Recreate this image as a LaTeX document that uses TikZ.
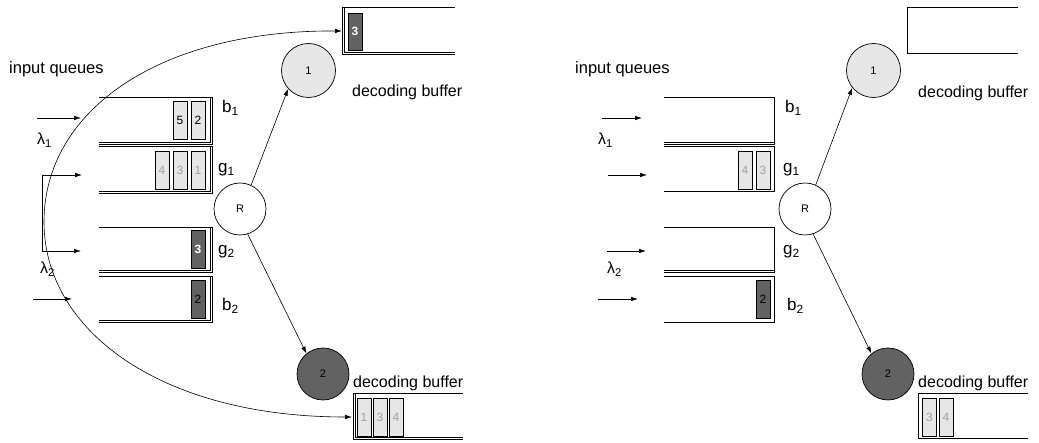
\documentclass[tikz,border=0pt]{standalone}
\usepackage{fontspec}
\setmainfont{Liberation Sans}
\usetikzlibrary{arrows.meta}
\definecolor{lightg}{HTML}{E6E6E6}
\definecolor{darkg}{HTML}{626262}
\definecolor{outl}{HTML}{A0A0A0}
\newcommand\qframe[5]{% style, x0, x1, ytop, ybot (queue open on the left)
  \draw[#1] (#2,#4) -- (#3,#4) -- (#3,#5) -- (#2,#5);}
\newcommand\bframe[5]{% style, x0, x1, ytop, ybot (buffer open on the right)
  \draw[#1] (#3,#4) -- (#2,#4) -- (#2,#5) -- (#3,#5);}
\begin{document}
\begin{tikzpicture}[x=1pt,y=-1pt,
  frame/.style={line width=0.9pt},
  thinframe/.style={line width=0.7pt},
  arr/.style={line width=0.6pt,-{Latex[length=7pt,width=4.5pt]}},
  biarr/.style={line width=0.6pt,{Latex[length=7pt,width=4.5pt]}-{Latex[length=7pt,width=4.5pt]}},
  pkt/.style={draw,line width=0.7pt,fill=lightg,minimum width=14pt,minimum height=38pt,inner sep=0pt,font=\fontsize{12}{12}\selectfont},
  pktghost/.style={pkt,text=outl},
  pktdark/.style={pkt,fill=darkg},
  circ/.style={circle,draw,line width=0.7pt,inner sep=0pt,font=\fontsize{11}{11}\selectfont},
  txt/.style={inner sep=0pt,anchor=base west,font=\fontsize{16}{18}\selectfont},
  qlbl/.style={inner sep=0pt,anchor=base west,font=\fontsize{17}{19}\selectfont}]
\useasboundingbox (0,0) rectangle (1039,443);

% ================= LEFT DIAGRAM =================
\node[txt,font=\fontsize{16.5}{18}\selectfont] (Liq) at (9,74) {input queues};
% queues
\qframe{frame}{99}{210}{97}{142}
\qframe{thinframe}{99}{212}{97}{144}
\qframe{frame}{99}{210}{146}{191}
\qframe{thinframe}{99}{212}{146}{193}
\qframe{frame}{99}{210}{227}{270}
\qframe{thinframe}{99}{212}{227}{272}
\qframe{frame}{99}{210}{276}{320}
\qframe{thinframe}{99}{212}{276}{322}
% queue labels
\node[qlbl] (Llb1) at (222,113) {b\textsubscript{1}};
\node[qlbl] (Llg1) at (218,173) {g\textsubscript{1}};
\node[qlbl] (Llg2) at (218,255) {g\textsubscript{2}};
\node[qlbl] (Llb2) at (222,311) {b\textsubscript{2}};
% packets
\node[pkt] (Lb1a) at (180,120) {5};
\node[pkt] (Lb1b) at (198,120) {2};
\node[pktghost] (Lg1a) at (162,170) {4};
\node[pktghost] (Lg1b) at (180,170) {3};
\node[pktghost] (Lg1c) at (198,170) {1};
\node[pktdark,text=white,font=\bfseries\fontsize{12}{12}\selectfont] (Lg2a) at (198,249.5) {3};
\node[pktdark] (Lb2a) at (198,299.5) {2};
% arrivals
\coordinate (La1s) at (37,118);  \coordinate (La1e) at (81,118);
\coordinate (Lg1e) at (82,175);  \coordinate (Lbr1) at (42,175);
\coordinate (Lbr2) at (42,251);  \coordinate (Lg2e) at (81,251);
\coordinate (La2s) at (33,299);  \coordinate (La2e) at (72,299);
\draw[arr] (La1s) -- (La1e);
\draw[biarr] (Lg1e) -- (Lbr1) -- (Lbr2) -- (Lg2e);
\draw[arr] (La2s) -- (La2e);
\node[txt] (Llam1) at (37,145) {λ\textsubscript{1}};
\node[txt] (Llam2) at (40,274) {λ\textsubscript{2}};
% router and decoders
\node[circ,minimum size=52pt] (LR) at (240,209) {R};
\node[circ,minimum size=54pt,fill=lightg] (Lc1) at (308.5,70.5) {1};
\node[circ,minimum size=52pt,fill=darkg] (Lc2) at (323,374) {2};
\draw[arr] (LR.65) -- (Lc1.222);
\draw[arr] (LR.-73) -- (Lc2.129);
% decoding buffers
\bframe{frame}{344.5}{455}{7}{52}
\bframe{thinframe}{342.5}{455}{7}{54}
\node[pktdark,minimum height=37pt,text=white,font=\bfseries\fontsize{12}{12}\selectfont] (Ltb3) at (355,31.5) {3};
\node[txt] (Ldb1) at (352,97) {decoding buffer};
\bframe{frame}{355}{463}{393}{437}
\bframe{thinframe}{353}{463}{393}{439}
\node[pktghost] (Lbb1) at (364,417) {1};
\node[pktghost] (Lbb3) at (380,417) {3};
\node[pktghost] (Lbb4) at (396,417) {4};
\node[txt] (Ldb2) at (353,388) {decoding buffer};
% retransmission curve
\coordinate (Ltbin) at (342,31);
\coordinate (Lbbin) at (352,417);
\draw[biarr] (Ltbin) .. controls (160,30) and (44,110) .. (44,222)
                     .. controls (44,330) and (160,417) .. (Lbbin);

% ================= RIGHT DIAGRAM =================
\begin{scope}[xshift=565pt]
\node[txt,font=\fontsize{16.5}{18}\selectfont] (Riq) at (10,74) {input queues};
\qframe{frame}{99}{209}{97}{142}
\qframe{thinframe}{99}{209}{97}{144}
\qframe{frame}{99}{209}{146}{191}
\qframe{frame}{99}{209}{227}{270}
\qframe{thinframe}{99}{209}{227}{272}
\qframe{frame}{99}{209}{276}{322}
\node[qlbl] (Rlb1) at (220,113) {b\textsubscript{1}};
\node[qlbl] (Rlg1) at (218,173) {g\textsubscript{1}};
\node[qlbl] (Rlg2) at (218,255) {g\textsubscript{2}};
\node[qlbl] (Rlb2) at (222,311) {b\textsubscript{2}};
\node[pktghost] (Rg1a) at (180,170) {4};
\node[pktghost] (Rg1b) at (198,170) {3};
\node[pktdark] (Rb2a) at (198,299.5) {2};
\coordinate (Ra1s) at (37,118);  \coordinate (Ra1e) at (77,118);
\coordinate (Rg1s) at (43,175);  \coordinate (Rg1e) at (82,175);
\coordinate (Rg2s) at (42,251);  \coordinate (Rg2e) at (81,251);
\coordinate (Ra2s) at (33,299);  \coordinate (Ra2e) at (73,299);
\draw[arr] (Ra1s) -- (Ra1e);
\draw[arr] (Rg1s) -- (Rg1e);
\draw[arr] (Rg2s) -- (Rg2e);
\draw[arr] (Ra2s) -- (Ra2e);
\node[txt] (Rlam1) at (33,145) {λ\textsubscript{1}};
\node[txt] (Rlam2) at (42,274) {λ\textsubscript{2}};
\node[circ,minimum size=52pt] (RR) at (240,209) {R};
\node[circ,minimum size=54pt,fill=lightg] (Rc1) at (308.5,70.5) {1};
\node[circ,minimum size=52pt,fill=darkg] (Rc2) at (323,374) {2};
\draw[arr] (RR.66) -- (Rc1.219);
\draw[arr] (RR.-72) -- (Rc2.129);
\bframe{frame}{342}{453}{7}{53}
\node[txt] (Rdb1) at (353,98) {decoding buffer};
\bframe{frame}{353}{463}{393}{438}
\node[pktghost] (Rbb3) at (364.5,417) {3};
\node[pktghost] (Rbb4) at (381,417) {4};
\node[txt] (Rdb2) at (353,388) {decoding buffer};
\end{scope}
\end{tikzpicture}
\end{document}
